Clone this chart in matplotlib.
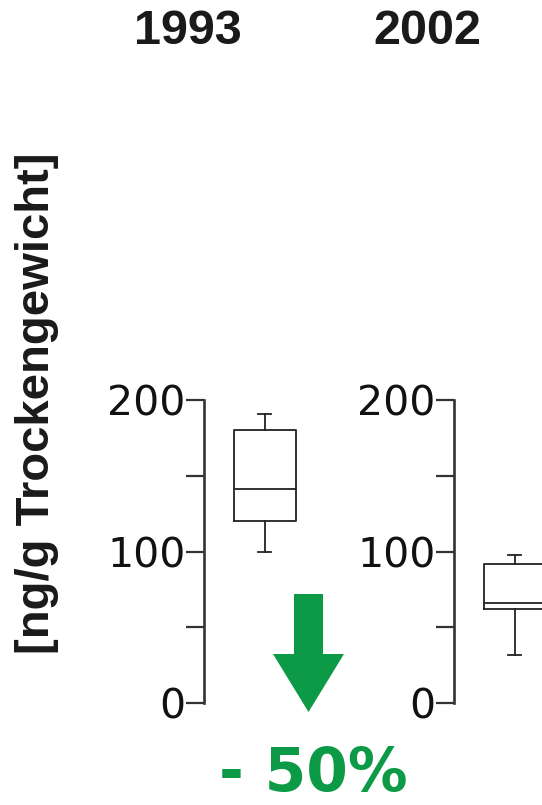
import matplotlib
matplotlib.use("Agg")
import matplotlib.pyplot as plt
from matplotlib.patches import FancyArrow

years = ["1993", "2002"]
whisker_low = [100, 32]
q1 = [120, 62]
medians = [141, 66]
q3 = [180, 92]
whisker_high = [191, 98]
y_ticks = [0, 50, 100, 150, 200]
y_tick_labels = ["0", "", "100", "", "200"]

W, H = 542, 805
fig = plt.figure(figsize=(W / 100, H / 100), dpi=100)

line_col = "#333333"
green = "#0c9a46"

# spines sit at x = 203.5 and 453.5 px, axis height 0..200 from 703 to 400 px
spine_x = [203.5, 453.5]
ax_w = 120.0
for i in range(2):
    ax = fig.add_axes([spine_x[i] / W, (H - 703) / H, ax_w / W, 303 / H])
    stats = [{"whislo": whisker_low[i], "q1": q1[i], "med": medians[i],
              "q3": q3[i], "whishi": whisker_high[i], "fliers": []}]
    ax.bxp(stats, positions=[61 / ax_w], widths=62 / ax_w, capwidths=13 / ax_w,
           showfliers=False,
           boxprops=dict(color="#222222", linewidth=1.3),
           medianprops=dict(color="#222222", linewidth=1.3),
           whiskerprops=dict(color="#222222", linewidth=1.3),
           capprops=dict(color="#222222", linewidth=1.3))
    ax.set_xlim(0, 1)
    ax.set_ylim(0, 200)
    for s in ["top", "right", "bottom"]:
        ax.spines[s].set_visible(False)
    ax.spines["left"].set_color(line_col)
    ax.spines["left"].set_linewidth(1.9)
    ax.set_xticks([])
    ax.set_yticks(y_ticks)
    ax.set_yticklabels(y_tick_labels, fontsize=29.5, family="DejaVu Sans", color="#111111")
    ax.tick_params(axis="y", direction="out", length=13, width=1.6, color=line_col, pad=0)
    ax.patch.set_alpha(0)

title_x = [188, 427]
for i in range(2):
    fig.text(title_x[i] / W, 1 - 31 / H, years[i], ha="center", va="center",
             fontsize=35, fontweight="bold", family="Liberation Sans", color="#1a1a1a")

fig.text(37 / W, 1 - 403 / H, "[ng/g Trockengewicht]", rotation=90, ha="center", va="center",
         fontsize=34, fontweight="bold", family="Liberation Sans", color="#1a1a1a")

# green arrow, in inches from bottom-left
arrow = FancyArrow(3.085, (H - 594) / 100, 0, -1.18, width=0.29, head_width=0.71,
                   head_length=0.58, length_includes_head=True, color=green, lw=0,
                   transform=fig.dpi_scale_trans)
fig.patches.append(arrow)

fig.text(313 / W, 1 - 774 / H, "- 50%", ha="center", va="center",
         fontsize=43, fontweight="bold", family="DejaVu Sans", color=green)

fig.savefig("out.png", dpi=100)
